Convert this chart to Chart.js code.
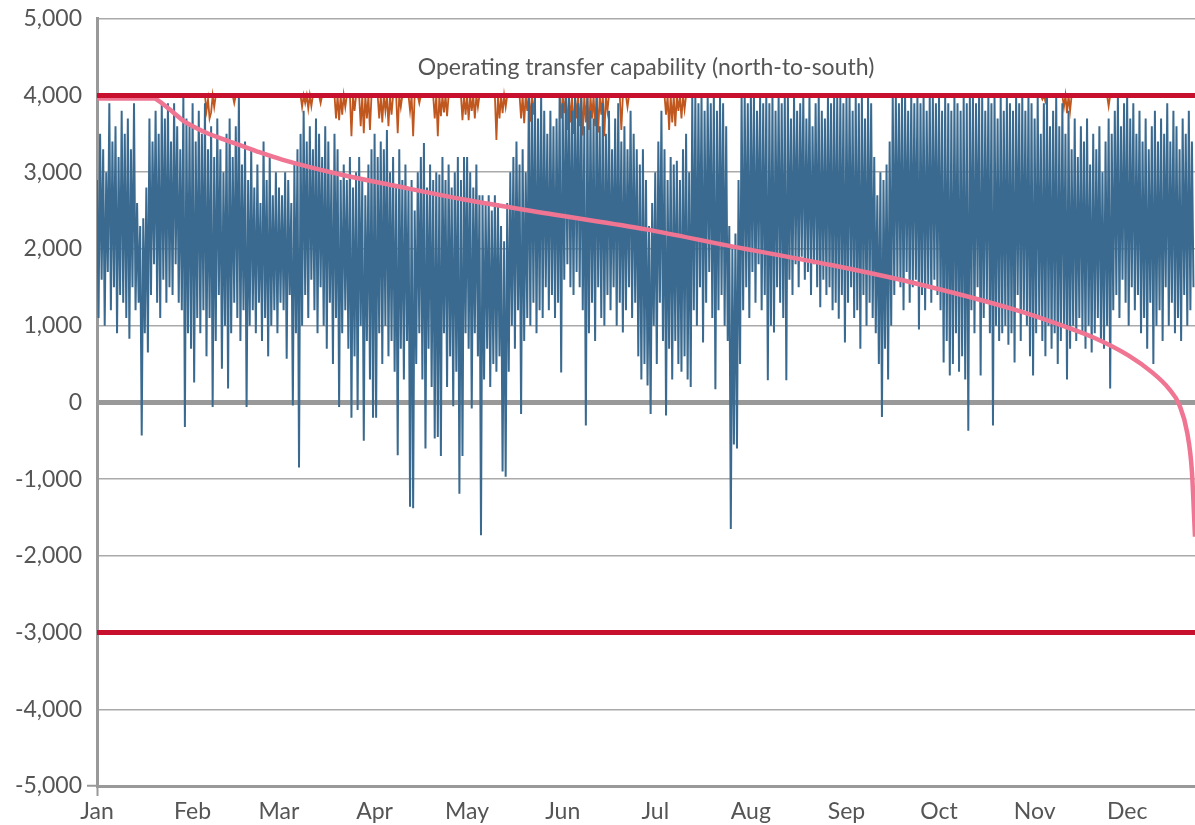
<!DOCTYPE html>
<html>
<head>
<meta charset="utf-8">
<script src="https://cdn.jsdelivr.net/npm/chart.js@4.4.1/dist/chart.umd.min.js"></script>
<style>
  html, body { margin: 0; padding: 0; background: #fff; }
  #wrap { width: 1195px; height: 825px; }
</style>
</head>
<body>
<div id="wrap"><canvas id="flow-chart" width="1195" height="825"></canvas></div>
<script>
// Month ticks (day of year where each month starts)
const monthLabels = ['Jan', 'Feb', 'Mar', 'Apr', 'May', 'Jun', 'Jul', 'Aug', 'Sep', 'Oct', 'Nov', 'Dec'];
const monthStartDays = [0, 31, 59, 90, 120, 151, 181, 212, 243, 273, 304, 334];
const lastDay = 356;

const otcLabel = 'Operating transfer capability (north-to-south)';
const otcNorth = 4000;
const otcSouth = -3000;

// Daily high / low flow (MW)
const flowHigh = [
  2900, 3500, 3300, 3000, 3900, 3400, 3600, 3200, 3800, 3500,
  3700, 3300, 3900, 2600, 2300, 2400, 2800, 3700, 3400, 3800,
  3500, 3900, 3700, 3900, 3400, 3900, 3600, 3300, 4000, 3700,
  3600, 3900, 3400, 3800, 3500, 3900, 3300, 3600, 3200, 3700,
  3300, 3000, 3500, 3700, 3200, 3600, 4000, 3100, 3400, 2900,
  3300, 2800, 3100, 2600, 3400, 2900, 3200, 2700, 3000, 2800,
  2700, 3000, 2900, 2600, 3100, 3300, 3500, 3800, 3400, 3600,
  3300, 3700, 3500, 3200, 3600, 3400, 3000, 3500, 3300, 2900,
  3100, 2900, 3200, 2800, 3000, 3200, 2900, 2700, 3100, 3300,
  3500, 3200, 3400, 3300, 3550, 3000, 3200, 2800, 3300, 2900,
  3100, 2800, 2900, 2500, 3000, 3200, 3380, 2800, 3100, 2900,
  3000, 2970, 3200, 2900, 3100, 2800, 3000, 3200, 2900, 3200,
  3200, 3000, 2800, 3100, 2700, 2700, 2600, 2700, 2500, 2700,
  2600, 2300, 2100, 2600, 3000, 3200, 3400, 3100, 3300, 3000,
  4000, 3900, 4000, 3700, 4000, 3800, 3500, 3800, 3600, 3700,
  4000, 3900, 4000, 4000, 3800, 4000, 3900, 4000, 3600, 4000,
  3800, 3700, 4000, 3600, 3900, 3500, 3800, 3300, 3700, 3900,
  3400, 3600, 3300, 3800, 3500, 3300, 3100, 3300, 2900, 2300,
  2600, 3000, 3400, 3800, 3300, 2900, 3200, 3100, 3150, 2900,
  3300, 3500, 3000, 4000, 4000, 3900, 4000, 3800, 4000, 3900,
  4000, 3800, 4000, 3900, 3600, 2300, 2000, 2200, 2900, 4000,
  4000, 3900, 4000, 4000, 3800, 4000, 3900, 4000, 3900, 4000,
  3800, 4000, 3900, 4000, 4000, 3700, 4000, 3800, 3900, 4000,
  3700, 4000, 3600, 3900, 4000, 3800, 3700, 4000, 3900, 4000,
  4000, 4000, 3900, 4000, 4000, 3800, 4000, 3900, 4000, 3700,
  4000, 3900, 3200, 2700, 3000, 2900, 3100, 3400, 4000, 4000,
  3900, 4000, 4000, 3800, 4000, 3900, 4000, 3900, 4000, 3800,
  4000, 4000, 3900, 4000, 3800, 4000, 3900, 3800, 4000, 3900,
  3800, 4000, 3900, 4000, 4000, 3900, 4000, 4000, 3800, 4000,
  3900, 4000, 3700, 4000, 3800, 4000, 3900, 3800, 4000, 3900,
  4000, 3800, 4000, 3900, 3700, 4000, 3500, 3900, 4000, 3600,
  3800, 4000, 3600, 3900, 3500, 3800, 3300, 3700, 3200, 3600,
  3400, 3700, 3100, 3500, 3300, 3600, 3000, 3400, 3700, 3500,
  3800, 4000, 3600, 3900, 4000, 3700, 3900, 3500, 3800, 3400,
  3700, 3300, 3600, 3800, 3400, 3700, 3500, 3900, 3400, 3800,
  3600, 3300, 3700, 3500, 3800, 3400
];
const flowLow = [
  1100, 1600, 1000, 1700, 1200, 1500, 900, 1400, 1300, 1100,
  830, 1500, 1200, 1300, -430, 900, 650, 1400, 1800, 1300,
  1100, 1600, 1300, 1500, 1400, 1800, 1300, 1200, -320, 900,
  700, 260, 1100, 900, 1200, 600, 1100, -60, 800, 1400,
  440, 1000, 180, 900, 1300, 1100, 800, 1200, -60, 1000,
  1200, 900, 1300, 800, 1100, 600, 1000, 1200, 900, 1300,
  1200, 570, 1400, -40, 900, -850, 1000, 1400, 1100, 1600,
  1200, 900, 1500, 1000, 700, 1300, 500, 1100, -60, 900,
  1200, 700, -200, 600, -100, 1000, -500, 800, 300, -200,
  -200, 900, 500, 1000, 600, 800, 400, -690, 700, 300,
  800, -1360, -1380, 500, 900, 300, -600, 700, 200, -470,
  -450, -700, 900, 200, 600, -50, 400, -1190, -700, 900,
  700, -80, 900, 600, -1730, 300, 700, 200, 500, 400,
  600, -900, -970, 400, 1000, 700, 1200, -150, 800, 1100,
  1000, 1300, 900, 1200, 1100, 1500, 1200, 1400, 1100, 1300,
  390, 1600, 1800, 1500, 1400, 1700, 1500, 1200, -300, 900,
  1300, 800, 1500, 1100, 1000, 1400, 1200, 1500, 1000, 1300,
  910, 1200, 1500, 1100, 1300, 600, 300, 500, 220, -150,
  1000, 500, 1300, 800, -170, 700, 300, 800, 500, 400,
  600, 300, 200, 1200, 1000, 1500, 780, 1300, 1700, 1100,
  170, 1200, 1400, 1000, 800, -1650, -550, -600, 500, 1200,
  1500, 1100, 1700, 1300, 1800, 1200, 1400, 290, 1000, 910,
  1500, 1300, 1100, 290, 1600, 1400, 1800, 1500, 1900, 1600,
  1700, 1400, 1800, 1500, 1240, 1600, 1400, 1500, 1200, 1300,
  1090, 1400, 780, 1300, 1500, 1100, 1200, 700, 1400, 1000,
  1300, 1100, 900, 500, -190, 700, 300, 1000, 1400, 1600,
  1500, 1200, 1700, 1300, 1500, 1600, 950, 1400, 1200, 1500,
  1300, 1600, 1400, 1200, 520, 800, 350, 500, 900, 400,
  600, 300, -370, 1200, 900, 1500, 350, 1100, 1300, 900,
  -300, 1000, 800, 900, 1000, 750, 900, 520, 1400, 800,
  1200, 1000, 600, 350, 900, 1100, 800, 600, 1000, 700,
  900, 500, 800, 1000, 300, 700, 1000, 800, 1100, 900,
  700, 1000, 650, 900, 1100, 800, 700, 1000, 180, 1200,
  1400, 1100, 1600, 1300, 1000, 1500, 1200, 1400, 900, 1100,
  700, 1300, 500, 1000, 1200, 800, 1500, 1000, 1300, 900,
  1100, 800, 1400, 1000, 1200, 1500
];

// Sorted flow (duration curve)
const durationDays = [0, 18.5, 20, 22, 25, 28, 32, 36, 43, 52, 60, 79, 97, 119, 148, 178, 205, 238, 264.5, 297, 313, 324, 334.5, 342, 347.5, 351, 353.5, 355, 356];
const durationValues = [3960, 3960, 3930, 3870, 3770, 3670, 3580, 3505, 3400, 3270, 3165, 2970, 2820, 2645, 2450, 2255, 2040, 1790, 1560, 1215, 1000, 830, 610, 395, 180, -40, -400, -900, -1750];

// Actual capability, [day, MW]
const capability = [
  [0, 4000], [35, 4000], [35.5, 3800], [36, 3950], [36.5, 3700], [37, 3780], [37.5, 4000], [38, 3850], [38.5, 4000],
  [44, 4000], [44.5, 3900], [45, 4000],
  [66, 4000], [66.5, 3850], [67, 4000], [67.5, 3900], [68, 4000], [68.5, 3830], [69, 4000], [69.5, 3860], [70, 4000],
  [72, 4000], [72.5, 3900], [73, 4000],
  [77, 4000], [77.5, 3700], [78, 4000], [78.5, 3680], [79, 4000], [79.5, 3750], [80, 4000], [80.5, 3850], [81, 4000],
  [82, 4000], [82.5, 3470], [83, 4000], [83.5, 3800], [84, 4000],
  [85, 4000], [85.5, 3600], [86, 4000], [86.5, 3510], [87, 4000], [87.5, 3700], [88, 4000], [88.5, 3550], [89, 4000],
  [91, 4000], [91.5, 3700], [92, 4000], [92.5, 3650], [93, 4000], [93.5, 3800], [94, 4000], [94.5, 3600], [95, 4000], [95.5, 3750], [96, 4000],
  [97, 4000], [97.5, 3510], [98, 4000], [98.5, 3850], [99, 4000],
  [101, 4000], [101.5, 3800], [102, 4000], [102.5, 3470], [103, 4000], [104, 4000], [104.5, 3900], [105, 4000],
  [109, 4000], [109.5, 3700], [110, 4000], [110.5, 3470], [111, 4000], [111.5, 3730], [112, 4000], [112.5, 3780], [113, 4000], [113.5, 3730], [114, 4000],
  [118, 4000], [118.5, 3680], [119, 4000], [119.5, 3750], [120, 4000], [120.5, 3680], [121, 4000], [121.5, 3800], [122, 4000], [122.5, 3700], [123, 4000], [123.5, 3850], [124, 4000],
  [129, 4000], [129.5, 3420], [130, 4000], [130.5, 3700], [131, 4000], [131.5, 3770], [132, 4000], [132.5, 3850], [133, 4000],
  [137, 4000], [137.5, 3700], [138, 4000], [138.5, 3640], [139, 4000], [139.5, 3800], [140, 4000], [140.5, 3660], [141, 4000], [141.5, 3750], [142, 4000],
  [150, 4000], [150.5, 3700], [151, 4000], [151.5, 3770], [152, 4000], [152.5, 3550], [153, 4000], [153.5, 3650], [154, 4000], [154.5, 3500],
  [155, 4000], [155.5, 3700], [156, 4000], [156.5, 3600], [157, 4000], [157.5, 3480], [158, 4000], [158.5, 3650], [159, 4000], [159.5, 3550],
  [160, 4000], [160.5, 3700], [161, 4000], [161.5, 3600], [162, 4000], [162.5, 3520], [163, 4000], [163.5, 3750], [164, 4000], [164.5, 3470],
  [165, 4000], [165.5, 3800], [166, 4000],
  [169.5, 4000], [170, 3550], [170.5, 4000], [171.5, 4000], [172, 3850], [172.5, 4000],
  [184, 4000], [184.5, 3750], [185, 4000], [185.5, 3550], [186, 4000], [186.5, 3650], [187, 4000], [187.5, 3600], [188, 4000], [188.5, 3800],
  [189, 4000], [189.5, 3700], [190, 4000], [190.5, 3820], [191, 4000],
  [306, 4000], [306.5, 3950], [307, 4000], [307.5, 3920], [308, 4000],
  [313, 4000], [313.5, 3850], [314, 4000], [314.5, 3770], [315, 4000], [315.5, 3800], [316, 4000],
  [327.5, 4000], [328, 3860], [328.5, 4000], [356, 4000]
];

const flowPoints = [];
flowHigh.forEach((h, d) => {
    flowPoints.push({ x: d, y: h });
    flowPoints.push({ x: d + 0.5, y: flowLow[d] });
});
const durationPoints = durationDays.map((d, i) => ({ x: d, y: durationValues[i] }));
const capabilityPoints = capability.map(p => ({ x: p[0], y: p[1] }));

Chart.defaults.font.family = 'Lato, "Open Sans", sans-serif';

// label between the 4,000 and 5,000 gridlines
const otcLabelPlugin = {
    id: 'otcLabel',
    afterDatasetsDraw(chart) {
        const { ctx, chartArea, scales } = chart;
        ctx.save();
        ctx.font = '23px Lato';
        ctx.fillStyle = '#555';
        ctx.textAlign = 'center';
        ctx.textBaseline = 'middle';
        ctx.fillText(otcLabel, (chartArea.left + chartArea.right) / 2, scales.y.getPixelForValue(4370));
        ctx.restore();
    }
};

const ctx = document.getElementById('flow-chart').getContext('2d');
new Chart(ctx, {
    type: 'line',
    data: {
        datasets: [
            {
                data: [{ x: 0, y: otcNorth }, { x: lastDay, y: otcNorth }],
                borderColor: '#c8102e', borderWidth: 5, pointRadius: 0, order: 0
            },
            {
                data: [{ x: 0, y: otcSouth }, { x: lastDay, y: otcSouth }],
                borderColor: '#c8102e', borderWidth: 5, pointRadius: 0, order: 0
            },
            {
                data: durationPoints,
                borderColor: '#f07593', borderWidth: 4.5, pointRadius: 0,
                cubicInterpolationMode: 'monotone', order: 1
            },
            {
                data: flowPoints,
                borderColor: '#3a6a8f', borderWidth: 2, pointRadius: 0, order: 2
            },
            {
                data: capabilityPoints,
                borderColor: '#c0571f', borderWidth: 1.8, pointRadius: 0, order: 3
            }
        ]
    },
    options: {
        responsive: false,
        animation: false,
        layout: { padding: { top: 18, right: 0, left: 0, bottom: 0 } },
        plugins: {
            legend: { display: false },
            tooltip: { enabled: false }
        },
        scales: {
            x: {
                type: 'linear',
                min: 0,
                max: lastDay,
                afterBuildTicks: (scale) => {
                    scale.ticks = monthStartDays.map(v => ({ value: v }));
                },
                afterFit: (scale) => { scale.height = 39; },
                ticks: {
                    autoSkip: false,
                    maxRotation: 0,
                    padding: 2,
                    color: '#555',
                    font: { size: 23 },
                    callback: (v) => monthLabels[monthStartDays.indexOf(v)]
                },
                grid: {
                    drawOnChartArea: false,
                    tickLength: 10,
                    tickWidth: 2,
                    tickColor: (c) => c.index === 0 ? '#999' : 'rgba(0,0,0,0)'
                },
                border: { color: '#999', width: 3 }
            },
            y: {
                min: -5000,
                max: 5000,
                afterFit: (scale) => { scale.width = 97; },
                ticks: {
                    stepSize: 1000,
                    padding: 5,
                    color: '#555',
                    font: { size: 23 },
                    callback: (v) => v.toLocaleString('en-US')
                },
                grid: {
                    color: (c) => c.tick && c.tick.value === 0 ? '#999' : '#aaa',
                    lineWidth: (c) => c.tick && c.tick.value === 0 ? 5 : 1.5,
                    tickLength: 10,
                    tickWidth: 2,
                    tickColor: (c) => c.tick && c.tick.value === -5000 ? '#999' : 'rgba(0,0,0,0)'
                },
                border: { color: '#999', width: 3 }
            }
        }
    },
    plugins: [otcLabelPlugin]
});
</script>
</body>
</html>
